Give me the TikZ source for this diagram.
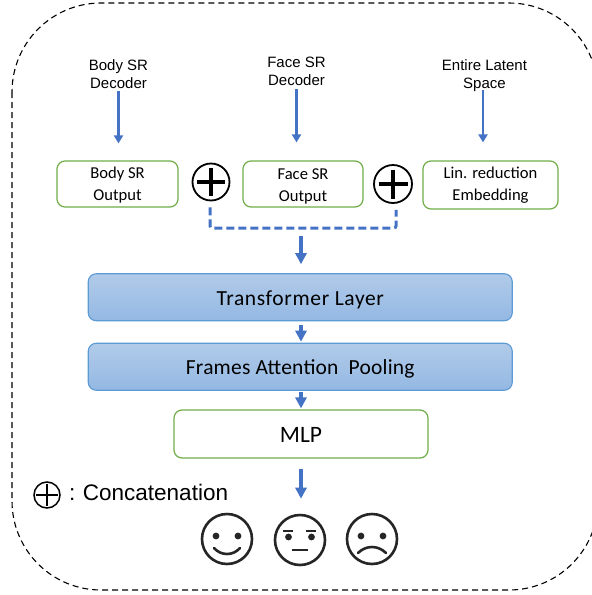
\documentclass[tikz,border=0pt]{standalone}
\usepackage{fontspec}
\setmainfont{Liberation Sans}
\newfontfamily\boxfont{Carlito}
\newfontfamily\bandfontA[LetterSpace=3]{Carlito}
\newfontfamily\bandfontB[LetterSpace=1]{Carlito}
\usetikzlibrary{arrows.meta,calc}
\definecolor{arrowblue}{HTML}{4472C4}
\definecolor{boxgreen}{HTML}{70AD47}
\definecolor{bandline}{HTML}{5B9BD5}
\definecolor{bandtop}{HTML}{B1CBE9}
\definecolor{bandbot}{HTML}{94B8E3}
\newcommand{\boxtop}{\rule{0pt}{14.5pt}}
\tikzset{
  srclabel/.style={align=center,inner sep=0pt,minimum height=36pt,font=\fontsize{15}{18}\selectfont},
  greenbox/.style={draw=boxgreen,line width=1.2pt,rounded corners=8pt,fill=white,inner sep=0pt,align=center,font=\boxfont\fontsize{16.6}{22}\selectfont},
  bluebox/.style={draw=bandline,line width=1.1pt,rounded corners=8pt,top color=bandtop,bottom color=bandbot,inner sep=0pt},
  thinarrow/.style={draw=arrowblue,line width=2.6pt,-{Triangle[width=9pt,length=8pt]}},
  thickarrow/.style={draw=arrowblue,line width=3.2pt,-{Triangle[width=11pt,length=11pt]}},
  busline/.style={draw=arrowblue,line width=3pt,dash pattern=on 8pt off 4pt,rounded corners=2pt},
  outerline/.style={draw=black,line width=1.1pt,dash pattern=on 6pt off 4pt},
  plusdisc/.style={circle,draw=black,fill=white,inner sep=0pt},
  facedisc/.style={circle,draw=black!85,line width=2.6pt,minimum size=50pt,inner sep=0pt},
  facemark/.style={draw=black!85,line width=2.6pt,line cap=round},
  eye/.style={fill=black!85,draw=none}
}
\begin{document}
\begin{tikzpicture}[x=1pt,y=-1pt]
\path[use as bounding box,clip] (0,0) rectangle (592,595);
\fill[white] (0,0) rectangle (592,595);
\draw[outerline,rounded corners=89pt] (12,3) rectangle (598,590);

\node[srclabel] (bodydec) at (118.5,76) {\strut Body SR\\\strut Decoder};
\node[srclabel] (facedec) at (296.5,73) {\strut Face SR\\\strut Decoder};
\node[srclabel] (latent) at (484.5,76) {\strut Entire Latent\\\strut Space};

\node[greenbox,minimum width=121pt,minimum height=46pt] (bodyout) at (117.5,184) {\boxtop Body SR\\Output};
\node[greenbox,minimum width=120pt,minimum height=46pt] (faceout) at (303,184) {\rule{0pt}{16pt}Face SR\\Output};
\node[greenbox,minimum width=135pt,minimum height=48pt] (linout) at (490.5,185) {Lin. reduction\\Embedding};

\node[plusdisc,line width=1.8pt,minimum size=37pt] (plusa) at (211,182) {};
\draw[line width=4pt] ($(plusa.center)+(-14,0)$) -- ($(plusa.center)+(14,0)$);
\draw[line width=4pt] ($(plusa.center)+(0,-14)$) -- ($(plusa.center)+(0,14)$);
\node[plusdisc,line width=1.8pt,minimum size=38pt] (plusb) at (393,184) {};
\draw[line width=3.2pt] ($(plusb.center)+(-14.5,0)$) -- ($(plusb.center)+(14.5,0)$);
\draw[line width=3.2pt] ($(plusb.center)+(0,-14.5)$) -- ($(plusb.center)+(0,14.5)$);

\draw[thinarrow,shorten <=-3pt,shorten >=17pt] (bodydec.south) -- (bodydec.south |- bodyout.north);
\draw[thinarrow,shorten <=-2pt,shorten >=18pt] (facedec.south) -- (facedec.south |- faceout.north);
\draw[thinarrow,shorten <=-4pt,shorten >=18pt] ($(latent.south)+(-1.5,0)$) -- ($(latent.south |- linout.north)+(-1.5,0)$);

\coordinate (bus) at (301,228);
\coordinate (busl) at (plusa.south |- bus);
\coordinate (busr) at (plusb.south |- bus);
\draw[busline] ($(plusa.south)+(-1,6)$) -- ($(busl)+(-1,0)$) -- ($(busr)+(3,0)$) -- ($(plusb.south)+(3,6)$);

\node[bluebox,minimum width=424pt,minimum height=47pt] (tf) at (300.25,297.25) {\rule{0pt}{20pt}\bandfontA\fontsize{21.5}{24}\selectfont Transformer Layer};
\node[bluebox,minimum width=424pt,minimum height=47pt] (fa) at (300.25,366.75) {\rule{0pt}{19pt}\bandfontB\fontsize{21.5}{24}\selectfont Frames Attention\ \ Pooling};
\node[greenbox,minimum width=254pt,minimum height=48pt] (mlp) at (301,434) {\rule{0pt}{16pt}\boxfont\fontsize{23.5}{26}\selectfont MLP};

\node[facedisc] (happy) at (227,539) {};
\node[facedisc] (neutral) at (300,540) {};
\node[facedisc] (sad) at (372,539) {};

\draw[thickarrow,shorten <=8pt,shorten >=9pt] (bus) -- (bus |- tf.north);
\draw[thickarrow,shorten <=4pt,shorten >=1pt] (bus |- tf.south) -- (bus |- fa.north);
\draw[thickarrow,shorten <=1pt,shorten >=1pt] (bus |- fa.south) -- (bus |- mlp.north);
\draw[thickarrow,shorten <=10pt,shorten >=15pt] (bus |- mlp.south) -- (bus |- neutral.north);

\fill[eye] ($(happy.center)+(-11,-3)$) circle (3.4pt);
\fill[eye] ($(happy.center)+(11,-3)$) circle (3.4pt);
\draw[facemark] ($(happy.center)+(-13,9)$) .. controls ($(happy.center)+(-6,17)$) and ($(happy.center)+(6,17)$) .. ($(happy.center)+(13,9)$);

\fill[eye] ($(neutral.center)+(-11.5,-3)$) circle (3.4pt);
\fill[eye] ($(neutral.center)+(11.5,-3)$) circle (3.4pt);
\draw[facemark,line cap=butt] ($(neutral.center)+(-17,-9)$) -- ($(neutral.center)+(-7,-9)$);
\draw[facemark,line cap=butt] ($(neutral.center)+(6,-9)$) -- ($(neutral.center)+(16,-9)$);
\draw[facemark,line cap=butt] ($(neutral.center)+(-8,10)$) -- ($(neutral.center)+(8,10)$);

\fill[eye] ($(sad.center)+(-11,-3)$) circle (3.4pt);
\fill[eye] ($(sad.center)+(11,-3)$) circle (3.4pt);
\draw[facemark] ($(sad.center)+(-14,14)$) .. controls ($(sad.center)+(-6,6)$) and ($(sad.center)+(6,6)$) .. ($(sad.center)+(14,14)$);

\node[plusdisc,line width=1.5pt,minimum size=26pt] (legendplus) at (47,495) {};
\draw[line width=1.8pt] ($(legendplus.center)+(-11,0)$) -- ($(legendplus.center)+(11,0)$);
\draw[line width=1.8pt] ($(legendplus.center)+(0,-11)$) -- ($(legendplus.center)+(0,11)$);
\node[anchor=base west,inner sep=0pt,font=\fontsize{22.5}{26}\selectfont] (legendtext) at (69,500) {:\,\,Concatenation};
\end{tikzpicture}
\end{document}
